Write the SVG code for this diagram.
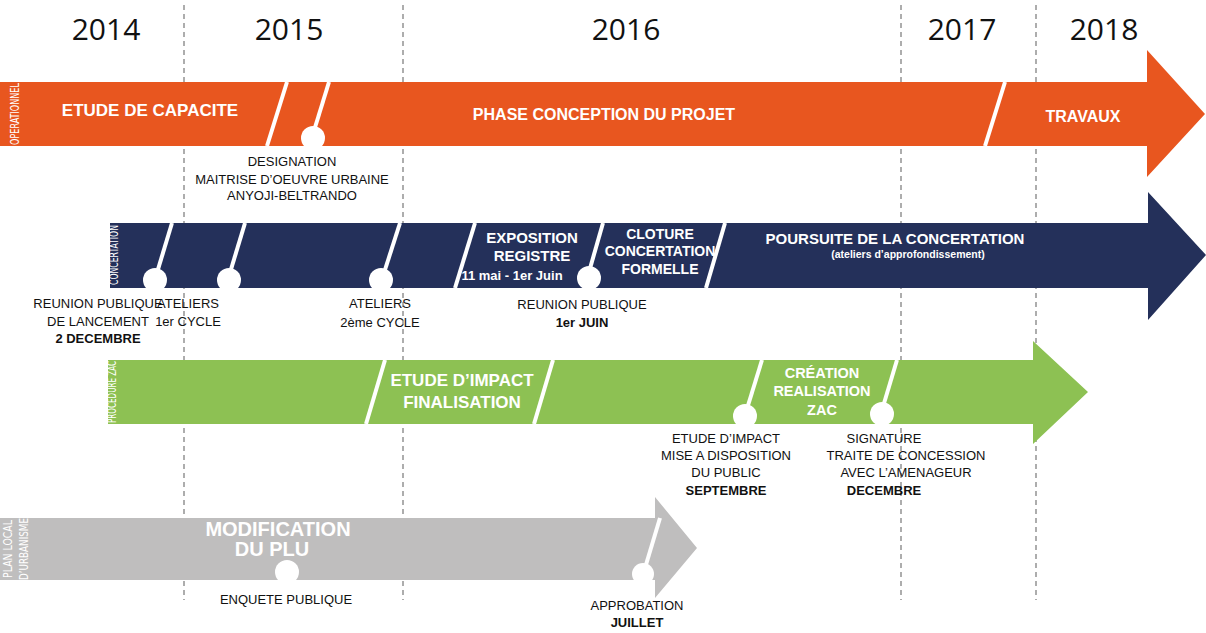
<svg xmlns="http://www.w3.org/2000/svg" width="1206" height="633" viewBox="0 0 1206 633">
<style>
.yr{font-family:"Open Sans","Liberation Sans",sans-serif;font-size:30px;fill:#111;text-anchor:middle}
.b{font-family:"Liberation Sans",Arial,sans-serif;font-weight:bold;fill:#fff;text-anchor:middle}
.l{font-family:"Liberation Sans",Arial,sans-serif;font-size:13px;fill:#111;text-anchor:middle}
.lb{font-weight:bold}
.v{font-family:"DejaVu Sans Condensed","Liberation Sans Narrow",sans-serif;font-size:13px;fill:#fff;text-anchor:middle}
.d{stroke:#fff;stroke-width:4;fill:none}
.g{stroke:#777;stroke-width:1.2;stroke-dasharray:5,4}
</style>
<rect width="1206" height="633" fill="#fff"/>
<g id="grid">
<line class="g" x1="184" y1="5" x2="184" y2="600"/>
<line class="g" x1="403" y1="5" x2="403" y2="600"/>
<line class="g" x1="901" y1="5" x2="901" y2="600"/>
<line class="g" x1="1036" y1="5" x2="1036" y2="600"/>
</g>
<g id="years">
<text class="yr" x="106" y="40">2014</text>
<text class="yr" x="289" y="40">2015</text>
<text class="yr" x="626" y="40">2016</text>
<text class="yr" x="962" y="40">2017</text>
<text class="yr" x="1104" y="40">2018</text>
</g>
<g id="operationnel">
<polygon points="0,82 1147,82 1147,50 1205,114 1147,177 1147,146 0,146" fill="#E8561F"/>
<line class="d" x1="287" y1="82" x2="267" y2="146"/>
<line class="d" x1="329" y1="82" x2="313" y2="134"/>
<line class="d" x1="1005" y1="82" x2="985" y2="146"/>
<circle cx="313" cy="138" r="12" fill="#fff"/>
<text class="v" transform="translate(19,114) rotate(-90)" textLength="62" lengthAdjust="spacingAndGlyphs">OPERATIONNEL</text>
<text class="b" x="150" y="116" font-size="17">ETUDE DE CAPACITE</text>
<text class="b" x="604" y="120" font-size="16">PHASE CONCEPTION DU PROJET</text>
<text class="b" x="1083" y="122" font-size="16">TRAVAUX</text>
<text class="l" x="292" y="166">DESIGNATION</text>
<text class="l" x="292" y="184">MAITRISE D’OEUVRE URBAINE</text>
<text class="l" x="292" y="200">ANYOJI-BELTRANDO</text>
</g>
<g id="concertation">
<polygon points="110,223 1148,223 1148,192 1206,255 1148,320 1148,288 110,288" fill="#24305A"/>
<line class="d" x1="172" y1="223" x2="156" y2="276"/>
<line class="d" x1="245" y1="223" x2="229" y2="276"/>
<line class="d" x1="400" y1="223" x2="383" y2="276"/>
<line class="d" x1="475" y1="223" x2="455" y2="288"/>
<line class="d" x1="603" y1="223" x2="589" y2="272"/>
<line class="d" x1="725" y1="223" x2="706" y2="288"/>
<circle cx="155" cy="280" r="12" fill="#fff"/>
<circle cx="229" cy="280" r="12" fill="#fff"/>
<circle cx="381" cy="280" r="12" fill="#fff"/>
<circle cx="589" cy="278" r="12" fill="#fff"/>
<text class="v" transform="translate(118,255) rotate(-90)" textLength="60" lengthAdjust="spacingAndGlyphs">CONCERTATION</text>
<text class="b" x="532" y="243" font-size="15">EXPOSITION</text>
<text class="b" x="532" y="261" font-size="15">REGISTRE</text>
<text class="b" x="512" y="280" font-size="13">11 mai - 1er Juin</text>
<text class="b" x="660" y="239" font-size="14">CLOTURE</text>
<text class="b" x="660" y="256" font-size="14">CONCERTATION</text>
<text class="b" x="660" y="274" font-size="14">FORMELLE</text>
<text class="b" x="895" y="244" font-size="15">POURSUITE DE LA CONCERTATION</text>
<text class="b" x="908" y="258" font-size="10.5">(ateliers d’approfondissement)</text>
<text class="l" x="98" y="308">REUNION PUBLIQUE</text>
<text class="l" x="98" y="326">DE LANCEMENT</text>
<text class="l lb" x="98" y="343">2 DECEMBRE</text>
<text class="l" x="188" y="308" text-anchor="start">ATELIERS</text>
<text class="l" x="188" y="326" text-anchor="start">1er CYCLE</text>
<text class="l" x="380" y="308">ATELIERS</text>
<text class="l" x="380" y="327">2ème CYCLE</text>
<text class="l" x="582" y="309">REUNION PUBLIQUE</text>
<text class="l lb" x="582" y="327">1er JUIN</text>
</g>
<g id="zac">
<polygon points="108,360 1033,360 1033,341 1088,392 1033,444 1033,424 108,424" fill="#8DC153"/>
<line class="d" x1="385" y1="360" x2="366" y2="424"/>
<line class="d" x1="553" y1="360" x2="534" y2="424"/>
<line class="d" x1="762" y1="360" x2="746" y2="412"/>
<line class="d" x1="897" y1="360" x2="882" y2="410"/>
<circle cx="745" cy="416" r="12" fill="#fff"/>
<circle cx="882" cy="414" r="12" fill="#fff"/>
<text class="v" transform="translate(116,392) rotate(-90)" textLength="62" lengthAdjust="spacingAndGlyphs">PROCEDURE ZAC</text>
<text class="b" x="462" y="386" font-size="17">ETUDE D’IMPACT</text>
<text class="b" x="462" y="408" font-size="17">FINALISATION</text>
<text class="b" x="822" y="378" font-size="14.5">CRÉATION</text>
<text class="b" x="822" y="396" font-size="14.5">REALISATION</text>
<text class="b" x="822" y="415" font-size="14.5">ZAC</text>
<text class="l" x="726" y="443">ETUDE D’IMPACT</text>
<text class="l" x="726" y="460">MISE A DISPOSITION</text>
<text class="l" x="726" y="477">DU PUBLIC</text>
<text class="l lb" x="726" y="495">SEPTEMBRE</text>
<text class="l" x="884" y="443">SIGNATURE</text>
<text class="l" x="906" y="460">TRAITE DE CONCESSION</text>
<text class="l" x="906" y="477">AVEC L’AMENAGEUR</text>
<text class="l lb" x="884" y="495">DECEMBRE</text>
</g>
<g id="plu">
<polygon points="0,518 655,518 655,497 697,548 655,598 655,580 0,580" fill="#BFBEBE"/>
<line class="d" x1="660" y1="518" x2="645" y2="568"/>
<circle cx="643" cy="574" r="11" fill="#fff"/>
<circle cx="287" cy="572" r="12" fill="#fff"/>
<text class="v" transform="translate(12,549) rotate(-90)" textLength="58" lengthAdjust="spacingAndGlyphs">PLAN LOCAL</text>
<text class="v" transform="translate(28,549) rotate(-90)" textLength="62" lengthAdjust="spacingAndGlyphs">D’URBANISME</text>
<text class="b" x="278" y="536" font-size="20">MODIFICATION</text>
<text class="b" x="272" y="556" font-size="20">DU PLU</text>
<text class="l" x="286" y="604">ENQUETE PUBLIQUE</text>
<text class="l" x="637" y="610">APPROBATION</text>
<text class="l lb" x="637" y="627">JUILLET</text>
</g>
</svg>
